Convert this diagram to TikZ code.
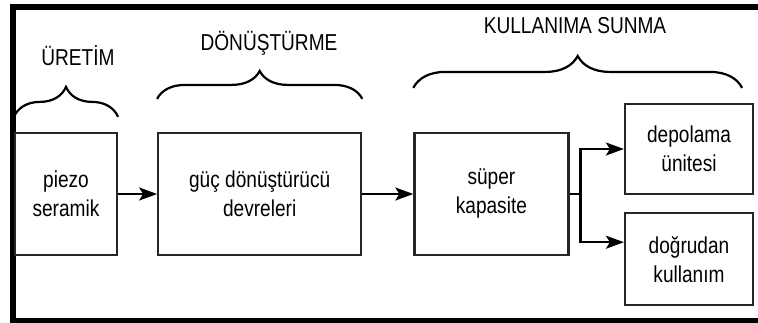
\documentclass[tikz,border=0pt]{standalone}
\usepackage{fontspec}
\setmainfont{Liberation Sans}[FakeStretch=0.83]
\usepackage{tikz}
\usetikzlibrary{positioning,arrows.meta,decorations.pathreplacing}

\begin{document}
\begin{tikzpicture}[x=1pt,y=-1pt]
\tikzstyle{blok}=[rectangle, draw=black!85, line width=2.2pt, align=center, inner sep=0pt, minimum height=122pt, font=\fontsize{23}{29}\selectfont]
\tikzstyle{connect}=[-{Stealth[length=18pt,width=13pt,inset=4pt]}, line width=2.2pt]
\tikzstyle{brc}=[decorate, decoration={brace, amplitude=28pt}, line width=2.2pt]
\tikzstyle{baslik}=[font=\fontsize{23}{27}\selectfont]
  \useasboundingbox (0,0) rectangle (758,322);
  \draw[line width=6pt] (758,7) -- (13,7) -- (13,321) -- (758,321);

  \node[blok, minimum width=102pt] (piezo) at (66,194) {piezo\\seramik};
  \node[blok, minimum width=203pt, right=39pt of piezo] (guc) {güç dönüştürücü\\devreleri};
  \node[blok, minimum width=154pt, right=51pt of guc] (super) {süper\\kapasite};
  \node[blok, minimum width=128pt, minimum height=90pt] (depo) at (689,149) {depolama\\ünitesi};
  \node[blok, minimum width=128pt, minimum height=92pt, below=17pt of depo] (dogrudan) {doğrudan\\kullanım};

  \draw[connect] (piezo) -- (guc);
  \draw[connect] (guc) -- (super);
  \coordinate (split) at ([xshift=11pt]super.east);
  \draw[line width=2.2pt] (super) -- (split);
  \draw[connect] (split) |- (depo);
  \draw[connect] (split) |- ([yshift=17pt]dogrudan.west);

  \draw[brc, decoration={amplitude=30pt}] ([yshift=15pt]piezo.north west) -- ([yshift=15pt]piezo.north east);
  \draw[brc] ([yshift=33pt]guc.north west) -- ([yshift=33pt]guc.north east);
  \draw[brc, decoration={amplitude=32pt}] ([yshift=44pt]super.north west) -- ([xshift=-12pt,yshift=15pt]depo.north east);

  \node[baslik] (uretim) at (78,56) {ÜRETİM};
  \node[baslik] (donusturme) at (269,43) {DÖNÜŞTÜRME};
  \node[baslik] (kullanima) at (575,26) {KULLANIMA SUNMA};
\end{tikzpicture}
\end{document}
